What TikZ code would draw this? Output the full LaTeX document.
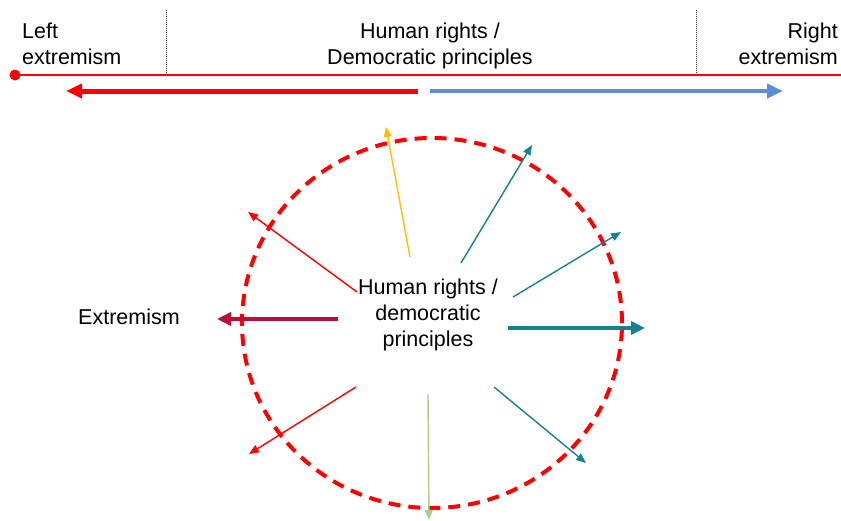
\documentclass[tikz,border=0pt]{standalone}
\usepackage{fontspec}
\setmainfont{Liberation Sans}
\usetikzlibrary{arrows.meta}
\definecolor{myred}{HTML}{FF0000}
\definecolor{myblue}{HTML}{5B8ED6}
\definecolor{myteal}{HTML}{17808F}
\definecolor{mycrimson}{HTML}{C00A3A}
\definecolor{myyellow}{HTML}{FFC000}
\definecolor{mygreen}{HTML}{A8D08D}
\begin{document}
\begin{tikzpicture}[x=1pt,y=-1pt,
  txt/.style={font=\fontsize{21.5}{26}\selectfont, inner sep=0pt},
  thinarrow/.style={line width=1.4pt, -{Triangle[length=10pt,width=8pt]}},
  thickarrow/.style={line width=4pt, -{Triangle[length=14pt,width=13pt]}},
  divider/.style={densely dotted, line width=1pt, black!80},
]
\useasboundingbox (0,0) rectangle (841,520);
% top scale
\node[txt, align=left, anchor=north west] (lt) at (22,23) {Left\\extremism};
\node[txt, align=center, anchor=north] (mt) at (430,23) {Human rights /\\Democratic principles};
\node[txt, align=right, anchor=north east] (rt) at (838,23) {Right\\extremism};
\coordinate (d1a) at (166,10); \coordinate (d1b) at (166,75);
\coordinate (d2a) at (696,10); \coordinate (d2b) at (696,75);
\draw[divider] (d1a) -- (d1b);
\draw[divider] (d2a) -- (d2b);
\coordinate (sl) at (15,75); \coordinate (sr) at (841,75);
\draw[myred, line width=2.5pt] (sl) -- (sr);
\fill[myred] (sl) circle (5.5pt);
\fill[myred] (846,75) circle (5.5pt);
\coordinate (ra) at (418,91); \coordinate (rb) at (66,91);
\draw[myred, line width=5pt, -{Triangle[length=16pt,width=14pt]}] (ra) -- (rb);
\coordinate (ba) at (430,91); \coordinate (bb) at (783,91);
\draw[myblue, line width=4pt, -{Triangle[length=16pt,width=14pt]}] (ba) -- (bb);
% circle
\draw[myred, line width=4pt, dash pattern=on 12pt off 8pt] (432,323) ellipse [x radius=190pt, y radius=185pt];
\node[txt, align=center] (ct) at (428,315) {Human rights /\\democratic\\principles};
\node[txt] (ex) at (129,317) {Extremism};
% arrows
\coordinate (y1) at (410,257); \coordinate (y2) at (386,127);
\draw[myyellow, thinarrow] (y1) -- (y2);
\coordinate (t1) at (461,263); \coordinate (t2) at (532,145);
\draw[myteal, thinarrow] (t1) -- (t2);
\coordinate (t3) at (513,297); \coordinate (t4) at (621,232);
\draw[myteal, thinarrow] (t3) -- (t4);
\coordinate (r1) at (357,292); \coordinate (r2) at (248,212);
\draw[myred, thinarrow] (r1) -- (r2);
\coordinate (c1) at (338,319); \coordinate (c2) at (217,319);
\draw[mycrimson, thickarrow] (c1) -- (c2);
\coordinate (t5) at (508,328); \coordinate (t6) at (645,328);
\draw[myteal, thickarrow] (t5) -- (t6);
\coordinate (r3) at (356,387); \coordinate (r4) at (249,454);
\draw[myred, thinarrow] (r3) -- (r4);
\coordinate (g1) at (428,394); \coordinate (g2) at (429,520);
\draw[mygreen, thinarrow] (g1) -- (g2);
\coordinate (t7) at (494,387); \coordinate (t8) at (586,463);
\draw[myteal, thinarrow] (t7) -- (t8);
\end{tikzpicture}
\end{document}
